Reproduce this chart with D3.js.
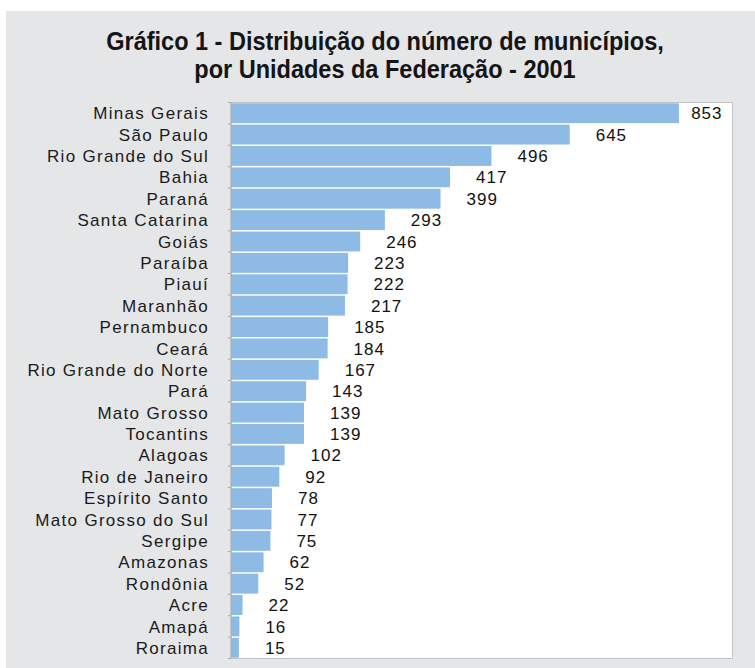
<!DOCTYPE html>
<html>
<head>
<meta charset="utf-8">
<script src="https://cdn.jsdelivr.net/npm/d3@7"></script>
<style>
  body { margin: 0; background: #fff; }
  svg { display: block; }
</style>
</head>
<body>
<div id="chart"></div>
<script>
// data
var states = ['Minas Gerais', 'São Paulo', 'Rio Grande do Sul', 'Bahia', 'Paraná',
  'Santa Catarina', 'Goiás', 'Paraíba', 'Piauí', 'Maranhão', 'Pernambuco', 'Ceará',
  'Rio Grande do Norte', 'Pará', 'Mato Grosso', 'Tocantins', 'Alagoas', 'Rio de Janeiro',
  'Espírito Santo', 'Mato Grosso do Sul', 'Sergipe', 'Amazonas', 'Rondônia', 'Acre',
  'Amapá', 'Roraima'];
var municipios = [853, 645, 496, 417, 399, 293, 246, 223, 222, 217, 185, 184, 167, 143,
  139, 139, 102, 92, 78, 77, 75, 62, 52, 22, 16, 15];
var titleLines = ['Gráfico 1 - Distribuição do número de municípios,',
  'por Unidades da Federação - 2001'];

// layout
var width = 755, height = 668;
var plot = {left: 231, top: 102.5, right: 732.5, bottom: 658.5};
var barColor = '#8dbbe5';
var panelColor = '#e5e6e8';
var borderColor = '#c4c4c4';
var labelFont = '"Liberation Sans", Arial, sans-serif';
var titleSqueeze = 0.94; // title face is a bit narrower than Arial bold

var svg = d3.select('#chart')
  .append('svg')
    .attr('width', width)
    .attr('height', height);

// gray panel
svg.append('rect')
    .attr('x', 6)
    .attr('y', 11)
    .attr('width', width - 6)
    .attr('height', height - 11)
    .attr('fill', panelColor);

// title
svg.append('g')
  .selectAll('text')
  .data(titleLines)
  .enter()
  .append('text')
    .attr('x', 385)
    .attr('y', function(d, i) { return 50 + i * 28; })
    .attr('text-anchor', 'middle')
    .style('font-family', '"Liberation Sans", Arial, sans-serif')
    .style('font-weight', 'bold')
    .style('font-size', '25px')
    .style('fill', '#141414')
    .text(function(d) { return d; })
    .attr('lengthAdjust', 'spacingAndGlyphs')
    .attr('textLength', function() { return this.getComputedTextLength() * titleSqueeze; });

// plot area
svg.append('rect')
    .attr('x', plot.left)
    .attr('y', plot.top)
    .attr('width', plot.right - plot.left)
    .attr('height', plot.bottom - plot.top)
    .attr('fill', '#fff')
    .attr('stroke', borderColor)
    .attr('stroke-width', 1);

var x = d3.scaleLinear()
    .domain([0, 955])
    .range([plot.left, plot.right]);

var y = d3.scaleBand()
    .domain(states)
    .range([plot.top, plot.bottom])
    .paddingInner(0.07)
    .paddingOuter(0.035);

// bars
svg.append('g')
  .selectAll('rect')
  .data(municipios)
  .enter()
  .append('rect')
    .attr('x', x(0))
    .attr('y', function(d, i) { return y(states[i]); })
    .attr('width', function(d) { return x(d) - x(0); })
    .attr('height', y.bandwidth())
    .attr('fill', barColor);

// left axis: ticks between categories
var tickYs = d3.range(states.length + 1).map(function(i) {
  return plot.top + i * (plot.bottom - plot.top) / states.length;
});
svg.append('g')
  .selectAll('line')
  .data(tickYs)
  .enter()
  .append('line')
    .attr('x1', plot.left - 3)
    .attr('x2', plot.left)
    .attr('y1', function(d) { return d; })
    .attr('y2', function(d) { return d; })
    .attr('stroke', '#aaa')
    .attr('stroke-width', 1);
svg.append('line')
    .attr('x1', plot.left)
    .attr('x2', plot.left)
    .attr('y1', plot.top)
    .attr('y2', plot.bottom)
    .attr('stroke', '#b0b0b0');

// category labels
svg.append('g')
  .selectAll('text')
  .data(states)
  .enter()
  .append('text')
    .attr('x', plot.left - 22)
    .attr('y', function(d) { return y(d) + y.bandwidth() / 2; })
    .attr('dy', '0.36em')
    .attr('text-anchor', 'end')
    .style('font-family', labelFont)
    .style('font-size', '17px')
    .style('letter-spacing', '1.3px')
    .style('fill', '#1a1a1a')
    .text(function(d) { return d; });

// value labels
svg.append('g')
  .selectAll('text')
  .data(municipios)
  .enter()
  .append('text')
    .attr('y', function(d, i) { return y(states[i]) + y.bandwidth() / 2; })
    .attr('dy', '0.36em')
    .style('font-family', labelFont)
    .style('font-size', '17px')
    .style('letter-spacing', '1px')
    .style('fill', '#111')
    .text(function(d) { return d; })
    .attr('x', function(d) {
      var w = this.getComputedTextLength();
      return Math.min(x(d) + 26, plot.right - 10 - w);
    });
</script>
</body>
</html>
